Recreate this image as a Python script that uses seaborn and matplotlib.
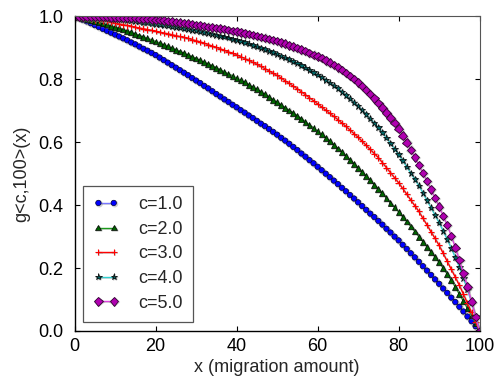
import matplotlib
matplotlib.use("Agg")
import matplotlib.pyplot as plt
from matplotlib import patheffects as pe
import seaborn as sns

# migration amount, one sample per unit
x_vals = list(range(101))

labels = ["c=1.0", "c=2.0", "c=3.0", "c=4.0", "c=5.0"]

g_c1 = [1.000, 0.995, 0.989, 0.984, 0.978, 0.972,
        0.966, 0.960, 0.954, 0.948, 0.942,
        0.936, 0.930, 0.924, 0.917, 0.911,
        0.904, 0.897, 0.891, 0.884, 0.877,
        0.869, 0.861, 0.853, 0.845, 0.837,
        0.829, 0.821, 0.813, 0.804, 0.796,
        0.788, 0.779, 0.771, 0.762, 0.753,
        0.745, 0.736, 0.728, 0.719, 0.711,
        0.702, 0.694, 0.685, 0.677, 0.668,
        0.659, 0.651, 0.642, 0.633, 0.624,
        0.614, 0.605, 0.595, 0.585, 0.575,
        0.564, 0.554, 0.543, 0.533, 0.522,
        0.511, 0.500, 0.489, 0.478, 0.467,
        0.455, 0.444, 0.432, 0.421, 0.409,
        0.397, 0.385, 0.373, 0.362, 0.350,
        0.338, 0.325, 0.313, 0.300, 0.288,
        0.274, 0.261, 0.247, 0.234, 0.220,
        0.206, 0.192, 0.178, 0.164, 0.150,
        0.135, 0.121, 0.106, 0.092, 0.077,
        0.062, 0.046, 0.031, 0.015, 0.000]

g_c2 = [1.000, 0.997, 0.994, 0.991, 0.988, 0.985,
        0.981, 0.977, 0.974, 0.970, 0.966,
        0.962, 0.958, 0.953, 0.949, 0.944,
        0.939, 0.935, 0.930, 0.925, 0.920,
        0.915, 0.910, 0.905, 0.899, 0.894,
        0.888, 0.883, 0.877, 0.872, 0.866,
        0.860, 0.854, 0.849, 0.843, 0.837,
        0.830, 0.824, 0.817, 0.811, 0.804,
        0.797, 0.790, 0.783, 0.775, 0.768,
        0.760, 0.752, 0.744, 0.735, 0.727,
        0.718, 0.710, 0.701, 0.693, 0.684,
        0.675, 0.665, 0.655, 0.646, 0.636,
        0.625, 0.614, 0.603, 0.591, 0.580,
        0.568, 0.556, 0.544, 0.531, 0.519,
        0.506, 0.492, 0.479, 0.465, 0.452,
        0.438, 0.423, 0.408, 0.394, 0.379,
        0.363, 0.348, 0.332, 0.316, 0.300,
        0.284, 0.268, 0.251, 0.235, 0.218,
        0.200, 0.181, 0.161, 0.140, 0.117,
        0.095, 0.072, 0.049, 0.025, 0.000]

g_c3 = [1.000, 0.998, 0.996, 0.994, 0.992, 0.990,
        0.988, 0.986, 0.984, 0.981, 0.979,
        0.976, 0.974, 0.971, 0.969, 0.966,
        0.963, 0.961, 0.958, 0.956, 0.953,
        0.950, 0.947, 0.945, 0.942, 0.939,
        0.936, 0.933, 0.930, 0.926, 0.923,
        0.919, 0.915, 0.910, 0.906, 0.901,
        0.897, 0.892, 0.887, 0.883, 0.878,
        0.872, 0.866, 0.860, 0.854, 0.848,
        0.841, 0.834, 0.827, 0.819, 0.812,
        0.804, 0.795, 0.787, 0.778, 0.770,
        0.760, 0.751, 0.741, 0.732, 0.722,
        0.712, 0.702, 0.692, 0.682, 0.672,
        0.661, 0.650, 0.639, 0.627, 0.616,
        0.603, 0.590, 0.577, 0.564, 0.551,
        0.535, 0.519, 0.503, 0.487, 0.471,
        0.453, 0.435, 0.416, 0.398, 0.380,
        0.358, 0.337, 0.315, 0.294, 0.272,
        0.247, 0.221, 0.196, 0.171, 0.145,
        0.117, 0.088, 0.059, 0.030, 0.000]

g_c4 = [1.000, 0.999, 0.999, 0.998, 0.998, 0.997,
        0.996, 0.995, 0.994, 0.993, 0.992,
        0.991, 0.989, 0.988, 0.986, 0.985,
        0.983, 0.981, 0.980, 0.978, 0.976,
        0.974, 0.972, 0.970, 0.968, 0.966,
        0.964, 0.962, 0.960, 0.957, 0.955,
        0.952, 0.949, 0.947, 0.944, 0.941,
        0.938, 0.935, 0.932, 0.928, 0.925,
        0.921, 0.917, 0.913, 0.908, 0.904,
        0.899, 0.895, 0.890, 0.885, 0.880,
        0.874, 0.869, 0.863, 0.857, 0.851,
        0.844, 0.837, 0.830, 0.822, 0.815,
        0.807, 0.798, 0.789, 0.780, 0.771,
        0.760, 0.749, 0.738, 0.726, 0.715,
        0.702, 0.688, 0.675, 0.661, 0.647,
        0.631, 0.614, 0.597, 0.579, 0.561,
        0.542, 0.522, 0.502, 0.482, 0.462,
        0.439, 0.415, 0.392, 0.368, 0.344,
        0.318, 0.291, 0.263, 0.234, 0.203,
        0.168, 0.131, 0.091, 0.047, 0.000]

g_c5 = [1.000, 1.000, 1.000, 0.999, 0.999, 0.999,
        0.999, 0.998, 0.998, 0.997, 0.997,
        0.996, 0.996, 0.995, 0.995, 0.994,
        0.993, 0.992, 0.991, 0.990, 0.989,
        0.988, 0.987, 0.985, 0.984, 0.982,
        0.980, 0.979, 0.977, 0.975, 0.973,
        0.971, 0.969, 0.967, 0.965, 0.963,
        0.961, 0.959, 0.957, 0.954, 0.952,
        0.949, 0.946, 0.944, 0.941, 0.938,
        0.935, 0.932, 0.928, 0.925, 0.921,
        0.917, 0.913, 0.908, 0.904, 0.899,
        0.894, 0.889, 0.884, 0.878, 0.873,
        0.867, 0.860, 0.853, 0.846, 0.838,
        0.829, 0.820, 0.810, 0.800, 0.790,
        0.778, 0.766, 0.753, 0.739, 0.725,
        0.710, 0.694, 0.678, 0.661, 0.643,
        0.621, 0.599, 0.576, 0.552, 0.527,
        0.502, 0.476, 0.450, 0.423, 0.395,
        0.366, 0.336, 0.302, 0.265, 0.226,
        0.183, 0.141, 0.093, 0.045, 0.000]

x_ticks = [0, 20, 40, 60, 80, 100]
y_ticks = [0.0, 0.2, 0.4, 0.6, 0.8, 1.0]

sns.set_style("ticks")
plt.rcParams["font.family"] = ["Liberation Sans", "DejaVu Sans"]
plt.rcParams["xtick.direction"] = "in"
plt.rcParams["ytick.direction"] = "in"

fig = plt.figure(figsize=(4.97, 3.80), dpi=100)
ax = fig.add_axes([0.150, 0.129, 0.815, 0.828])

series = [g_c1, g_c2, g_c3, g_c4, g_c5]
styles = [
    dict(color="#7777ff", marker="o", markersize=3.9, markerfacecolor="#0000ff",
         markeredgecolor="#000033", markeredgewidth=0.5),
    dict(color="#1a9a1a", marker="^", markersize=4.2, markerfacecolor="#006400",
         markeredgecolor="#000000", markeredgewidth=0.5),
    dict(color="#ff0000", marker="+", markersize=4.5, markerfacecolor="#ff0000",
         markeredgecolor="#ff0000", markeredgewidth=0.8),
    dict(color="#30d0d0", marker="*", markersize=4.8, markerfacecolor="#006666",
         markeredgecolor="#000000", markeredgewidth=0.5),
    dict(color="#e040e0", marker="D", markersize=4.3, markerfacecolor="#b000b0",
         markeredgecolor="#300030", markeredgewidth=0.6),
]

# faint grey offset halo under each marker
shadow = [pe.SimpleLineShadow(offset=(0.7, -0.7), shadow_color="gray", alpha=0.35,
                              linewidth=1.2),
          pe.Normal()]

for lab, vals, st in zip(labels, series, styles):
    sns.lineplot(x=x_vals, y=vals, ax=ax, label=lab, linewidth=1.0,
                 errorbar=None, sort=False, path_effects=shadow, **st)

ax.set_xlim(0, 100)
ax.set_ylim(0.0, 1.0)
ax.set_xticks(x_ticks)
ax.set_xticklabels([str(t) for t in x_ticks])
ax.set_yticks(y_ticks)
ax.set_yticklabels([f"{t:.1f}" for t in y_ticks])
ax.tick_params(axis="both", which="both", direction="in", length=3.5, width=0.8,
               top=True, right=True, labelsize=13, colors="black")
ax.tick_params(axis="y", pad=8)
ax.tick_params(axis="x", pad=5)

for side in ["left", "bottom"]:
    ax.spines[side].set_color("black")
    ax.spines[side].set_linewidth(1.0)
for side in ["top", "right"]:
    ax.spines[side].set_visible(True)
    ax.spines[side].set_color("#555555")
    ax.spines[side].set_linewidth(0.8)

ax.set_xlabel("x (migration amount)", fontsize=13, labelpad=3)
ax.set_ylabel("g<c,100>(x)", fontsize=13, labelpad=6)

leg = ax.legend(loc="lower left", bbox_to_anchor=(0.021, 0.030), borderaxespad=0,
                numpoints=2, fontsize=13, handlelength=1.45, handletextpad=1.05,
                labelspacing=0.42, borderpad=0.55, fancybox=False, framealpha=1.0,
                edgecolor="#555555")
leg.get_frame().set_linewidth(0.9)

fig.savefig("out.png", dpi=100)
